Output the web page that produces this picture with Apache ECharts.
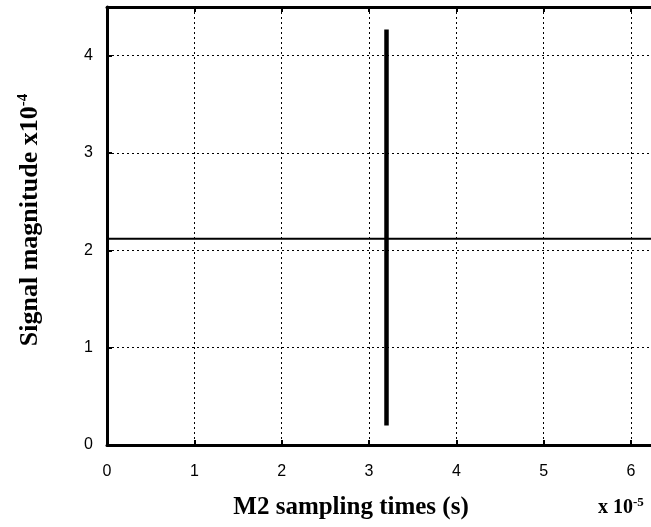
<!DOCTYPE html>
<html>
<head>
<meta charset="utf-8">
<script src="https://cdn.jsdelivr.net/npm/echarts@6/dist/echarts.min.js"></script>
<style>
  html, body { margin: 0; padding: 0; background: #fff; overflow: hidden; }
  #chart { width: 651px; height: 527px; }
</style>
</head>
<body>
<div id="chart"></div>
<script>
// Axis ranges (x in units of 1e-5 s, y in units of 1e-4)
const xRange = [0, 6.4];
const yRange = [0, 4.5];
const xTicks = [0, 1, 2, 3, 4, 5, 6];
const yTicks = [0, 1, 2, 3, 4];

// Baseline signal level across the sampling window
const baselineX = [0, 6.4];
const baselineY = [2.12, 2.12];

// Sampling pulse at t = 3.2e-5 s
const pulseX = [3.2, 3.2];
const pulseY = [0.2, 4.27];

const pairs = (xs, ys) => xs.map((x, i) => [x, ys[i]]);

const SERIF = '"Liberation Serif", "DejaVu Serif", serif';
const tickFont = { fontFamily: '"Liberation Sans", Arial, sans-serif', fontSize: 16, color: '#000' };
const dotted = { lineStyle: { color: '#000', width: 1, type: [2, 3] } };
const frameLine = { show: true, onZero: false, lineStyle: { color: '#000', width: 3 } };
const innerTick = { show: true, inside: true, length: 5, lineStyle: { color: '#000', width: 2 } };

const chart = echarts.init(document.getElementById('chart'), null, { renderer: 'canvas' });

chart.setOption({
  animation: false,
  backgroundColor: '#fff',
  // the axes box runs past the right edge of the page
  grid: { left: 107, top: 7, width: 559, bottom: 82, containLabel: false, outerBoundsMode: 'none' },
  xAxis: [{
    type: 'value', min: xRange[0], max: xRange[1], interval: 1,
    axisLine: frameLine,
    axisTick: innerTick,
    axisLabel: Object.assign({ margin: 19, formatter: v => xTicks.includes(v) ? String(v) : '' }, tickFont),
    splitLine: Object.assign({ show: true }, dotted)
  }, {
    type: 'value', position: 'top', min: xRange[0], max: xRange[1], interval: 1,
    axisLine: frameLine,
    axisTick: innerTick,
    axisLabel: { show: false }, splitLine: { show: false }
  }],
  yAxis: {
    type: 'value', min: yRange[0], max: yRange[1], interval: 1,
    axisLine: frameLine,
    axisTick: innerTick,
    axisLabel: Object.assign({ margin: 14, formatter: v => yTicks.includes(v) ? String(v) : '' }, tickFont),
    splitLine: Object.assign({ show: true }, dotted)
  },
  graphic: [{
    // x-axis title
    type: 'text', x: 351, y: 508,
    style: {
      text: 'M2 sampling times (s)',
      font: 'bold 25px ' + SERIF, fill: '#000',
      align: 'center', verticalAlign: 'middle'
    }
  }, {
    // y-axis title, rotated
    type: 'text', x: 30, y: 220, rotation: Math.PI / 2,
    style: {
      text: 'Signal magnitude x10{sup|-4}',
      font: 'bold 26px ' + SERIF, fill: '#000',
      align: 'center', verticalAlign: 'middle',
      rich: { sup: { font: 'bold 15px ' + SERIF, fill: '#000', verticalAlign: 'top', padding: [0, 0, 14, 0] } }
    }
  }, {
    // x-axis scale factor
    type: 'text', x: 598, y: 496,
    style: {
      text: 'x 10{sup|-5}',
      font: 'bold 20px ' + SERIF, fill: '#000',
      rich: { sup: { font: 'bold 13px ' + SERIF, fill: '#000', verticalAlign: 'top', padding: [0, 0, 10, 0] } }
    }
  }],
  series: [{
    type: 'line', data: pairs(baselineX, baselineY), symbol: 'none',
    lineStyle: { color: '#000', width: 2 }, z: 3
  }, {
    type: 'line', data: pairs(pulseX, pulseY), symbol: 'none',
    lineStyle: { color: '#000', width: 4.5, cap: 'butt' }, z: 4
  }]
});
</script>
</body>
</html>
